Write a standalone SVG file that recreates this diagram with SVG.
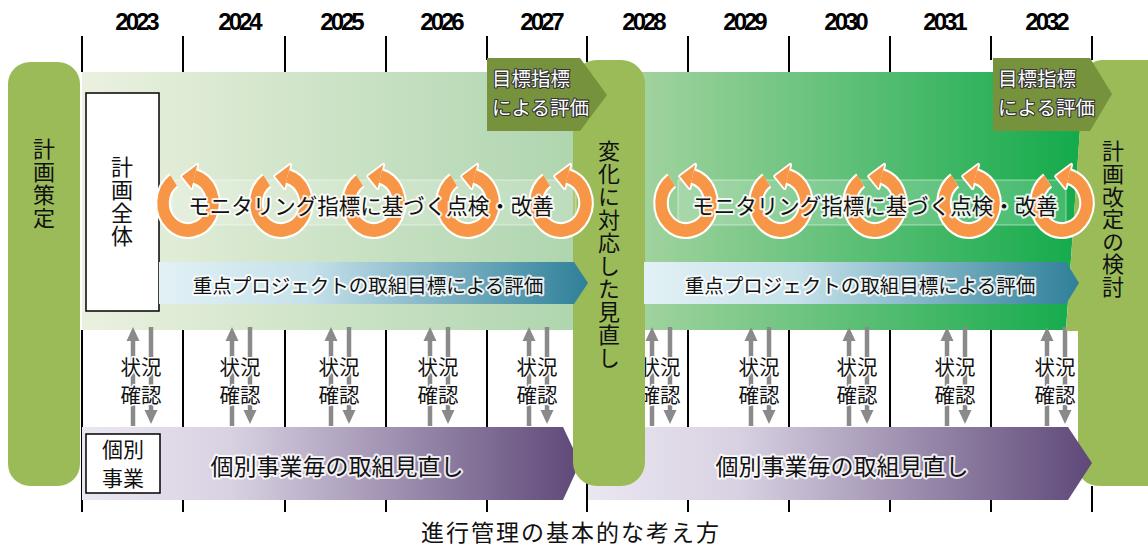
<svg xmlns="http://www.w3.org/2000/svg" width="1148" height="547" viewBox="0 0 1148 547">
<style>
  .jp { font-family: "Noto Sans CJK JP", "Noto Sans", sans-serif; fill: #111; }
  .yr { font-family: "Liberation Sans", Arial, sans-serif; font-weight: bold; font-size: 24px; letter-spacing: -3px; fill: #000; text-anchor: middle; }
  .tick { stroke: #000; stroke-width: 2; }
  .bar { fill: #9bbb59; }
  .vt { writing-mode: vertical-rl; font-size: 22px; letter-spacing: 1px; }
  .halo { stroke: #fff; stroke-width: 4; stroke-linejoin: round; paint-order: stroke; stroke-opacity: 0.85; }
  .wtxt { font-family: "Noto Sans CJK JP", "Noto Sans", sans-serif; font-size: 19.5px; fill: #fff; stroke: #333; stroke-width: 2.2; stroke-linejoin: round; paint-order: stroke; }
  .chk { font-size: 20.5px; text-anchor: middle; stroke: #fff; stroke-width: 3; stroke-linejoin: round; paint-order: stroke; }
  .gar { stroke: #8a8a8a; stroke-width: 4.5; }
  .gah { fill: #8a8a8a; }
  .mbox { fill: #ffffff; fill-opacity: 0.18; stroke: #ffffff; stroke-opacity: 0.5; stroke-width: 1; }
</style>
<defs>
  <linearGradient id="gBand1" x1="0" y1="0" x2="1" y2="0">
    <stop offset="0" stop-color="#ebf1df"/><stop offset="1" stop-color="#aed5ae"/>
  </linearGradient>
  <linearGradient id="gBand2" x1="0" y1="0" x2="1" y2="0">
    <stop offset="0" stop-color="#a2d39f"/><stop offset="1" stop-color="#12aa4a"/>
  </linearGradient>
  <linearGradient id="gTeal" x1="0" y1="0" x2="1" y2="0">
    <stop offset="0" stop-color="#e2f1f5"/><stop offset="0.35" stop-color="#c6e1ea"/><stop offset="1" stop-color="#2f8099"/>
  </linearGradient>
  <linearGradient id="gPurple" x1="0" y1="0" x2="1" y2="0">
    <stop offset="0" stop-color="#ebe7f1"/><stop offset="0.3" stop-color="#d8d1e2"/><stop offset="1" stop-color="#5e4878"/>
  </linearGradient>
  <g id="cyc">
    <g transform="scale(1,1.1)">
      <path d="M-14.34,-20.48 A25,25 0 1 0 6.47,-24.15" fill="none" stroke="#fff" stroke-width="15.5"/>
      <polygon points="9.32,-34.78 3.62,-13.52 -6.05,-24.26" fill="#fff" stroke="#fff" stroke-width="3.5" stroke-linejoin="round"/>
      <path d="M-14.34,-20.48 A25,25 0 1 0 6.47,-24.15" fill="none" stroke="#f79646" stroke-width="11.5"/>
      <polygon points="9.32,-34.78 3.62,-13.52 -6.05,-24.26" fill="#f79646"/>
    </g>
  </g>
  <g id="ud">
    <line class="gar" x1="-8" y1="338" x2="-8" y2="426"/>
    <polygon class="gah" points="-8,327 -14.5,341 -1.5,341"/>
    <line class="gar" x1="10" y1="327" x2="10" y2="412"/>
    <polygon class="gah" points="10,424 3.5,410 16.5,410"/>
  </g>
</defs>

<g id="years">
  <text class="yr" x="136" y="30">2023</text>
  <text class="yr" x="239" y="30">2024</text>
  <text class="yr" x="341" y="30">2025</text>
  <text class="yr" x="441" y="30">2026</text>
  <text class="yr" x="541" y="30">2027</text>
  <text class="yr" x="643" y="30">2028</text>
  <text class="yr" x="744" y="30">2029</text>
  <text class="yr" x="845" y="30">2030</text>
  <text class="yr" x="944" y="30">2031</text>
  <text class="yr" x="1046" y="30">2032</text>
</g>

<g id="bands">
  <rect x="82" y="72" width="495" height="258" fill="url(#gBand1)"/>
  <polygon points="640,72 1084,72 1066,330 640,330" fill="url(#gBand2)"/>
</g>

<g id="connectors">
  <g id="ticks">
    <line class="tick" x1="82" y1="36" x2="82" y2="72"/>
    <line class="tick" x1="183" y1="36" x2="183" y2="72"/>
    <line class="tick" x1="285" y1="36" x2="285" y2="72"/>
    <line class="tick" x1="386" y1="36" x2="386" y2="72"/>
    <line class="tick" x1="487" y1="36" x2="487" y2="60"/>
    <line class="tick" x1="587" y1="36" x2="587" y2="62"/>
    <line class="tick" x1="688" y1="36" x2="688" y2="72"/>
    <line class="tick" x1="789" y1="36" x2="789" y2="72"/>
    <line class="tick" x1="890" y1="36" x2="890" y2="72"/>
    <line class="tick" x1="991" y1="36" x2="991" y2="60"/>
    <line class="tick" x1="1092" y1="36" x2="1092" y2="60"/>

    <line class="tick" x1="82" y1="330" x2="82" y2="512"/>
    <line class="tick" x1="183" y1="330" x2="183" y2="427"/>
    <line class="tick" x1="285" y1="330" x2="285" y2="427"/>
    <line class="tick" x1="386" y1="330" x2="386" y2="427"/>
    <line class="tick" x1="487" y1="330" x2="487" y2="427"/>
    <line class="tick" x1="688" y1="330" x2="688" y2="427"/>
    <line class="tick" x1="789" y1="330" x2="789" y2="427"/>
    <line class="tick" x1="890" y1="330" x2="890" y2="427"/>
    <line class="tick" x1="991" y1="330" x2="991" y2="427"/>

    <line class="tick" x1="183" y1="500" x2="183" y2="512"/>
    <line class="tick" x1="285" y1="500" x2="285" y2="512"/>
    <line class="tick" x1="386" y1="500" x2="386" y2="512"/>
    <line class="tick" x1="487" y1="500" x2="487" y2="512"/>
    <line class="tick" x1="587" y1="480" x2="587" y2="512"/>
    <line class="tick" x1="688" y1="500" x2="688" y2="512"/>
    <line class="tick" x1="789" y1="500" x2="789" y2="512"/>
    <line class="tick" x1="890" y1="500" x2="890" y2="512"/>
    <line class="tick" x1="991" y1="500" x2="991" y2="512"/>
    <line class="tick" x1="1092" y1="486" x2="1092" y2="512"/>
  </g>
  <g id="check-arrows">
    <use href="#ud" x="141"/>
    <use href="#ud" x="240"/>
    <use href="#ud" x="339"/>
    <use href="#ud" x="438"/>
    <use href="#ud" x="537"/>
    <use href="#ud" x="660"/>
    <use href="#ud" x="759"/>
    <use href="#ud" x="857"/>
    <use href="#ud" x="955"/>
    <use href="#ud" x="1055"/>
  </g>
</g>

<g id="check-labels">
  <text class="jp chk" x="141" y="375">状況</text><text class="jp chk" x="141" y="403">確認</text>
  <text class="jp chk" x="240" y="375">状況</text><text class="jp chk" x="240" y="403">確認</text>
  <text class="jp chk" x="339" y="375">状況</text><text class="jp chk" x="339" y="403">確認</text>
  <text class="jp chk" x="438" y="375">状況</text><text class="jp chk" x="438" y="403">確認</text>
  <text class="jp chk" x="537" y="375">状況</text><text class="jp chk" x="537" y="403">確認</text>
  <text class="jp chk" x="660" y="375">状況</text><text class="jp chk" x="660" y="403">確認</text>
  <text class="jp chk" x="759" y="375">状況</text><text class="jp chk" x="759" y="403">確認</text>
  <text class="jp chk" x="857" y="375">状況</text><text class="jp chk" x="857" y="403">確認</text>
  <text class="jp chk" x="955" y="375">状況</text><text class="jp chk" x="955" y="403">確認</text>
  <text class="jp chk" x="1055" y="375">状況</text><text class="jp chk" x="1055" y="403">確認</text>
</g>

<g id="review-1">
  <polygon points="82,427 563,427 580,463 563,500 82,500" fill="url(#gPurple)"/>
  <text class="jp halo" x="337" y="465" font-size="23" text-anchor="middle" dominant-baseline="central">個別事業毎の取組見直し</text>
</g>

<g id="box-kobetsu">
  <rect x="86" y="434" width="74" height="59" fill="#fff" stroke="#000" stroke-width="1.5"/>
  <text class="jp" x="123" y="457" font-size="21" text-anchor="middle">個別</text>
  <text class="jp" x="123" y="486" font-size="21" text-anchor="middle">事業</text>
</g>

<g id="box-zentai">
  <rect x="86" y="93" width="73" height="218" fill="#fff" stroke="#000" stroke-width="1.5"/>
  <text class="jp vt" x="122" y="156">計画全体</text>
</g>

<g id="bar-plan">
  <rect class="bar" x="8" y="62" width="72" height="424" rx="22"/>
  <text class="jp vt" x="44" y="138">計画策定</text>
</g>

<g id="bar-revise">
  <path class="bar" d="M1102,60 H1160 V486 H1101 Q1078,486 1078,463 V331 L1066,331 L1083,84 Q1086,60 1102,60 Z"/>
  <text class="jp vt" x="1113" y="140" style="letter-spacing:0.6px">計画改定の検討</text>
</g>

<g id="review-2">
  <polygon points="588,427 1068,427 1092,463 1068,500 588,500" fill="url(#gPurple)"/>
  <text class="jp halo" x="842" y="465" font-size="23" text-anchor="middle" dominant-baseline="central">個別事業毎の取組見直し</text>
</g>

<g id="bar-change">
  <rect class="bar" x="573" y="60" width="72" height="426" rx="24"/>
  <text class="jp vt" x="609" y="140">変化に対応した見直し</text>
</g>

<g id="monitor-1">
  <rect class="mbox" x="172" y="180" width="404" height="45"/>
  <use href="#cyc" x="188" y="203"/>
  <use href="#cyc" x="281" y="203"/>
  <use href="#cyc" x="374" y="203"/>
  <use href="#cyc" x="468" y="203"/>
  <use href="#cyc" x="561" y="203"/>
  <text class="jp halo" x="371" y="204" font-size="21.5" text-anchor="middle" dominant-baseline="central">モニタリング指標に基づく点検・改善</text>
</g>

<g id="monitor-2">
  <rect class="mbox" x="678" y="180" width="388" height="45"/>
  <use href="#cyc" x="686" y="203"/>
  <use href="#cyc" x="781" y="203"/>
  <use href="#cyc" x="875" y="203"/>
  <use href="#cyc" x="969" y="203"/>
  <use href="#cyc" x="1062" y="203"/>
  <text class="jp halo" x="875" y="204" font-size="21.5" text-anchor="middle" dominant-baseline="central">モニタリング指標に基づく点検・改善</text>
</g>

<g id="priority-1">
  <polygon points="159,262 574,262 588,283 574,304 159,304" fill="url(#gTeal)"/>
  <text class="jp halo" x="368" y="284" font-size="19.5" text-anchor="middle" dominant-baseline="central">重点プロジェクトの取組目標による評価</text>
</g>

<g id="priority-2">
  <polygon points="644,262 1066,262 1079,283 1066,304 644,304" fill="url(#gTeal)"/>
  <text class="jp halo" x="860" y="284" font-size="19.5" text-anchor="middle" dominant-baseline="central">重点プロジェクトの取組目標による評価</text>
</g>

<g id="target-1">
  <polygon points="487,58 580,58 607,95 580,131 487,131" fill="#76923c"/>
  <text class="wtxt" x="492" y="86">目標指標</text>
  <text class="wtxt" x="492" y="115">による評価</text>
</g>

<g id="target-2">
  <polygon points="993,58 1090,58 1112,94 1090,131 993,131" fill="#76923c"/>
  <text class="wtxt" x="998" y="86">目標指標</text>
  <text class="wtxt" x="998" y="115">による評価</text>
</g>

<g id="caption">
  <text class="jp" x="571" y="541" font-size="23" text-anchor="middle" letter-spacing="2">進行管理の基本的な考え方</text>
</g>
</svg>
